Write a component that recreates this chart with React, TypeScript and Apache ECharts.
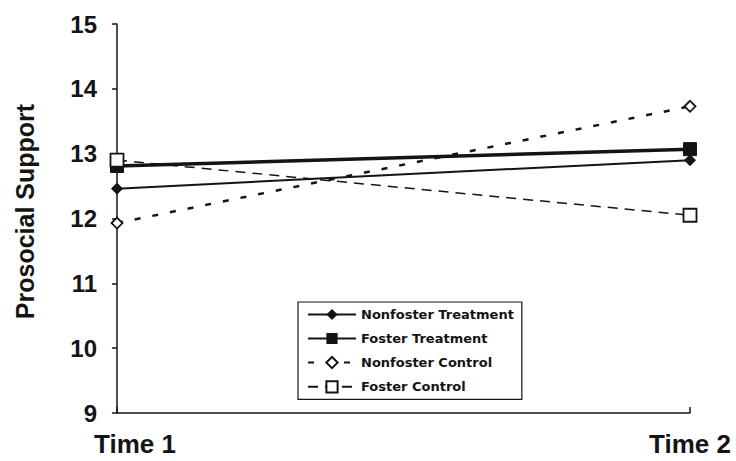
import React, { useEffect, useRef } from "react";
import * as echarts from "echarts";

const categories = ["Time 1", "Time 2"];
const nonfosterTreatment = [12.46, 12.9];
const fosterTreatment = [12.81, 13.07];
const nonfosterControl = [11.93, 13.73];
const fosterControl = [12.9, 12.05];
const seriesNames = ["Nonfoster Treatment", "Foster Treatment", "Nonfoster Control", "Foster Control"];
const yTicks = { min: 9, max: 15, interval: 1 };

const INK = "#141414";
const FONT = "'Liberation Sans', Arial, sans-serif";

export default function App() {
  const ref = useRef<HTMLDivElement>(null);
  useEffect(() => {
    if (!ref.current) return;
    const chart = echarts.init(ref.current, undefined, { renderer: "svg" });
    chart.setOption({
      animation: false,
      backgroundColor: "#ffffff",
      grid: { left: 117, right: 46, top: 24, bottom: 48 },
      xAxis: {
        type: "category",
        data: categories,
        boundaryGap: false,
        axisLine: { lineStyle: { color: INK, width: 1.5 } },
        axisTick: { inside: true, length: 6, lineStyle: { color: INK, width: 1.5 } },
        axisLabel: {
          margin: 18,
          color: INK,
          fontFamily: FONT,
          fontWeight: "bold",
          fontSize: 26,
          formatter: (v: string, i: number) => (i === 0 ? "{a|" + v + "}" : "{b|" + v + "}"),
          rich: {
            a: { padding: [0, 0, 0, 36], fontFamily: FONT, fontWeight: "bold", fontSize: 26, color: INK },
            b: { padding: [0, 0, 0, 0], fontFamily: FONT, fontWeight: "bold", fontSize: 26, color: INK },
          },
        },
        splitLine: { show: false },
      },
      yAxis: {
        type: "value",
        min: yTicks.min,
        max: yTicks.max,
        interval: yTicks.interval,
        name: "Prosocial Support",
        nameLocation: "middle",
        nameGap: 80,
        nameTextStyle: { color: INK, fontFamily: FONT, fontWeight: "bold", fontSize: 25, padding: [0, 0, 0, 14] },
        axisLine: { show: true, lineStyle: { color: INK, width: 1.5 } },
        axisTick: { show: true, length: 5, lineStyle: { color: INK, width: 1.5 } },
        axisLabel: { margin: 20, color: INK, fontFamily: FONT, fontWeight: 900, fontSize: 24 },
        splitLine: { show: false },
      },
      legend: {
        orient: "vertical",
        left: 298,
        top: 302,
        padding: [6, 8, 6, 9],
        itemWidth: 48,
        itemHeight: 14,
        itemGap: 11,
        borderColor: INK,
        borderWidth: 1.2,
        data: seriesNames,
        textStyle: { color: INK, fontFamily: "'DejaVu Sans', sans-serif", fontWeight: "bold", fontSize: 13 },
      },
      series: [
        {
          name: seriesNames[0],
          type: "line",
          data: nonfosterTreatment,
          symbol: "diamond",
          symbolSize: 11,
          lineStyle: { color: INK, width: 2 },
          itemStyle: { color: INK, borderColor: INK },
        },
        {
          name: seriesNames[1],
          type: "line",
          data: fosterTreatment,
          symbol: "rect",
          symbolSize: 13,
          lineStyle: { color: INK, width: 3.5 },
          itemStyle: { color: INK, borderColor: INK },
        },
        {
          name: seriesNames[2],
          type: "line",
          data: nonfosterControl,
          symbol: "diamond",
          symbolSize: 11,
          lineStyle: { color: INK, width: 2.5, type: [6, 12] },
          itemStyle: { color: "#ffffff", borderColor: INK, borderWidth: 1.8 },
        },
        {
          name: seriesNames[3],
          type: "line",
          data: fosterControl,
          symbol: "rect",
          symbolSize: 13,
          lineStyle: { color: INK, width: 1.5, type: [10, 7] },
          itemStyle: { color: "#ffffff", borderColor: INK, borderWidth: 1.8 },
        },
      ],
    });
    return () => chart.dispose();
  }, []);
  return <div ref={ref} style={{ width: 736, height: 461, position: "absolute", left: 0, top: 0 }} />;
}
